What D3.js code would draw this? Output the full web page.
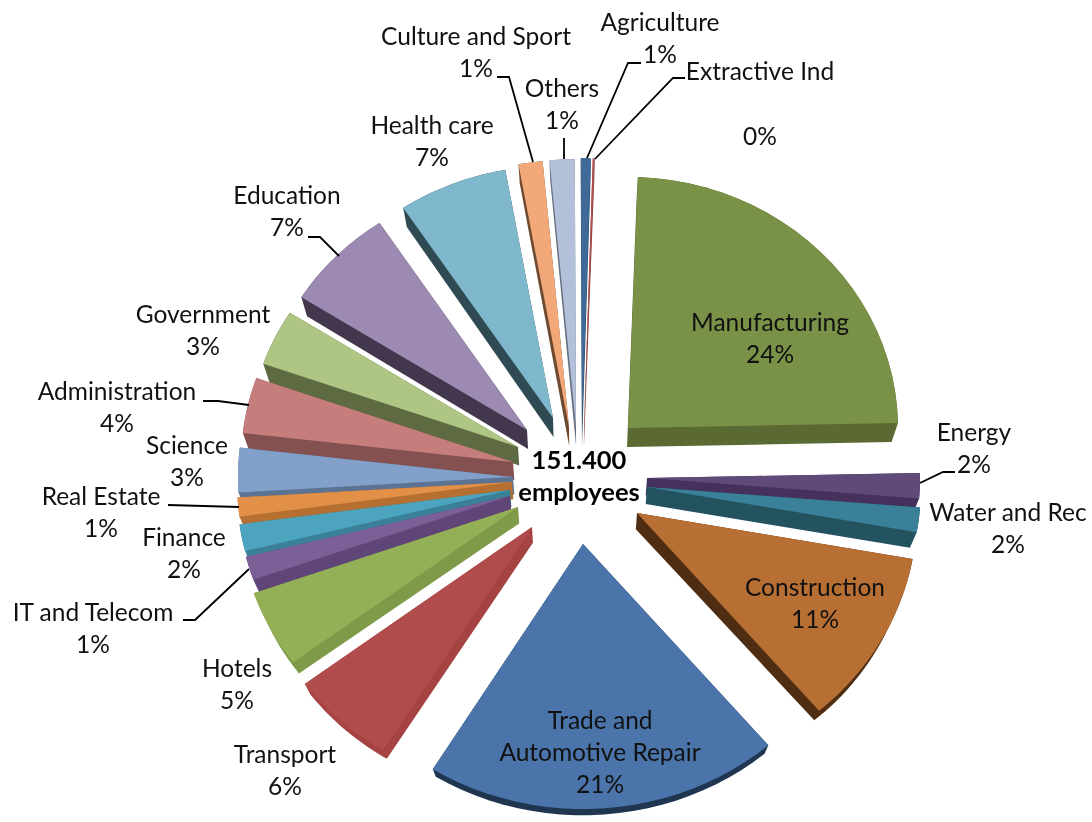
<!DOCTYPE html>
<html lang="en">
<head>
<meta charset="utf-8">
<title>employees by sector</title>
<script src="https://d3js.org/d3.v7.min.js"></script>
<style>
body{margin:0;background:#fff;font-family:Lato,"Open Sans",sans-serif;}
svg{display:block;}
text{fill:#111;font-size:24.5px;text-anchor:middle;}
.total{font-weight:bold;font-size:25.5px;fill:#000;}
</style>
</head>
<body>
<div id="chart"></div>
<script>
// slice order runs clockwise from the top, shares
var sectors = ["Manufacturing","Energy","Water and Rec","Construction","Trade and Automotive Repair","Transport","Hotels","IT and Telecom","Finance","Real Estate","Science","Administration","Government","Education","Health care","Culture and Sport","Others","Agriculture","Extractive Ind"]
var shares = [24.1,1.6,1.55,10.9,20.1,6.0,4.8,1.5,1.7,1.2,2.8,3.55,3.6,6.7,6.5,1.35,1.4,0.55,0.1]
var pctLabels = ["24%","2%","2%","11%","21%","6%","5%","1%","2%","1%","3%","4%","3%","7%","7%","1%","1%","1%","0%"]
var topColors = ["#7a9148","#5f4a7a","#3a8099","#b86f33","#4a74aa","#b04c4b","#94b057","#7c5f96","#4ca4bf","#e28f47","#82a0ca","#c67e7d","#aec583","#9d8ab2","#7fb8cc","#f2a878","#b3c0d9","#3f6a98","#b05050"]
var wallColors = ["#5a6a32","#46315c","#23535f","#4f2d12","#1f3550","#a54242","#7f9a49","#5f4578","#3a8099","#b56f30","#5d7394","#845050","#5e6b42","#43374d","#2f4a53","#6e4a30","#66707f","#2a4a66","#803a3a"]

// hand exploded slices, like the original
var explodeX = [48,67,67,57,3,-48,-62,-70,-70,-68,-67,-67,-62,-53,-27,-11,-4,2,4]
var explodeY = [-52,-2,7,33,64,47,27,16,10,2,-3,-18,-33,-50,-62,-53,-53,-52,-52]
var radii = [270,273,274,280,285,283,280,272,273,275,275,272,270,267,271,287,288,290,290]

var labelX = [770,974,1008,815,600,285,237,93,184,101,187,117,203,287,432,476,562,660,760]
var labelY = [322,432,512,587,720,754,668,612,537,496,445,391,314,195,125,36,88,22,71]
var pctY = [354,464,544,619,784,786,700,644,569,528,477,423,346,227,157,68,120,54,136]

var leaders = [
    [[497,77],[509,77],[533,162]],
    [[564,138],[564,159]],
    [[641,63],[628,63],[587,158]],
    [[685,78],[673,78],[595,159]],
    [[308,237],[320,237],[339,256]],
    [[203,401],[218,401],[249,405]],
    [[168,505],[239,507]],
    [[183,620],[195,620],[249,569]],
    [[955,472],[943,472],[920,483]]
]

var w = 1092
var h = 822
var cx = 580
var cy = 480
var tilt = 0.93

var svg = d3.select("#chart").append("svg")
    .attr("width",w)
    .attr("height",h)
    .style("filter","blur(0.5px)")

var pie = d3.pie().sort(null)
    .startAngle(2.1*Math.PI/180)
    .endAngle((360+2.1)*Math.PI/180)
var arcs = pie(shares)

// wall gets shallower towards the viewer
var depth = d3.scaleLinear().domain([430,815]).range([19,6]).clamp(true)
var line = d3.line()

function outline(d,i){
    var ax = cx+explodeX[i]
    var ay = cy+explodeY[i]
    var pts = [[ax,ay]]
    d3.range(0,25).forEach(function(k){
        var a = d.startAngle+(d.endAngle-d.startAngle)*k/24
        pts.push([ax+radii[i]*Math.sin(a),ay-radii[i]*tilt*Math.cos(a)])
    })
    return pts
}
function lowered(p){
    return [p[0]-(p[0]-cx)*0.02,p[1]+depth(p[1])]
}

var slices = arcs.map(function(d,i){
    var top = outline(d,i)
    return {i:i,top:top,hull:d3.polygonHull(top.concat(top.map(lowered))),order:d3.mean(top,function(p){return p[1]})}
}).sort(function(a,b){return a.order-b.order})

var g = svg.selectAll("g.slice").data(slices).enter().append("g").attr("class","slice")
g.append("path")
    .attr("d",function(d){return line(d.hull)+"Z"})
    .attr("fill",function(d){return wallColors[d.i]})
g.append("path")
    .attr("d",function(d){return line(d.top)+"Z"})
    .attr("fill",function(d){return topColors[d.i]})

svg.selectAll("path.leader").data(leaders).enter().append("path")
    .attr("class","leader")
    .attr("d",function(d){return line(d)})
    .attr("fill","none")
    .attr("stroke","#000")
    .attr("stroke-width",1.8)

// labels, the trade one is wrapped by hand
sectors.forEach(function(name,i){
    var lines = name=="Trade and Automotive Repair" ? ["Trade and","Automotive Repair"] : [name]
    lines.forEach(function(t,k){
        svg.append("text").attr("x",labelX[i]).attr("y",labelY[i]+k*32+9).text(t)
    })
    svg.append("text").attr("x",labelX[i]).attr("y",pctY[i]+9).text(pctLabels[i])
})

svg.append("text").attr("class","total").attr("x",579).attr("y",469).text("151.400")
svg.append("text").attr("class","total").attr("x",579).attr("y",501).text("employees")
</script>
</body>
</html>
